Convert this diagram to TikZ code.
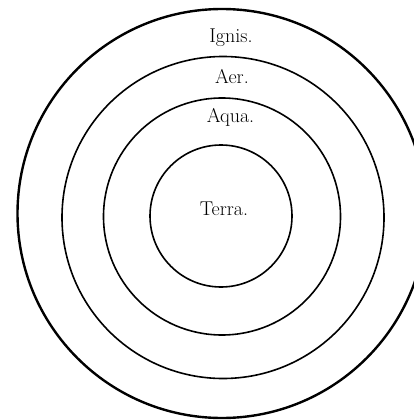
\documentclass[tikz,border=0pt]{standalone}
\usepackage{fontspec}
\begin{document}
\begin{tikzpicture}[x=1pt,y=1pt,
  ring/.style={draw=black, line width=1.6pt},
  outerring/.style={draw=black, line width=2.4pt},
  lbl/.style={anchor=base, inner sep=0pt, font=\fontsize{20}{20}\selectfont}]
\useasboundingbox (0,0) rectangle (414,-420);
\draw[outerring] (222,-213.5) circle (204.5);
\draw[ring] (223,-217.5) circle (161);
\draw[ring] (222,-216.5) circle (118.5);
\draw[ring] (221,-216) circle (71);
\node[lbl] (ignis) at (231,-42) {Ignis.};
\node[lbl] (aer) at (232,-83) {Aer.};
\node[lbl] (aqua) at (230.5,-122) {Aqua.};
\node[lbl] (terra) at (224,-215) {Terra.};
\end{tikzpicture}
\end{document}
